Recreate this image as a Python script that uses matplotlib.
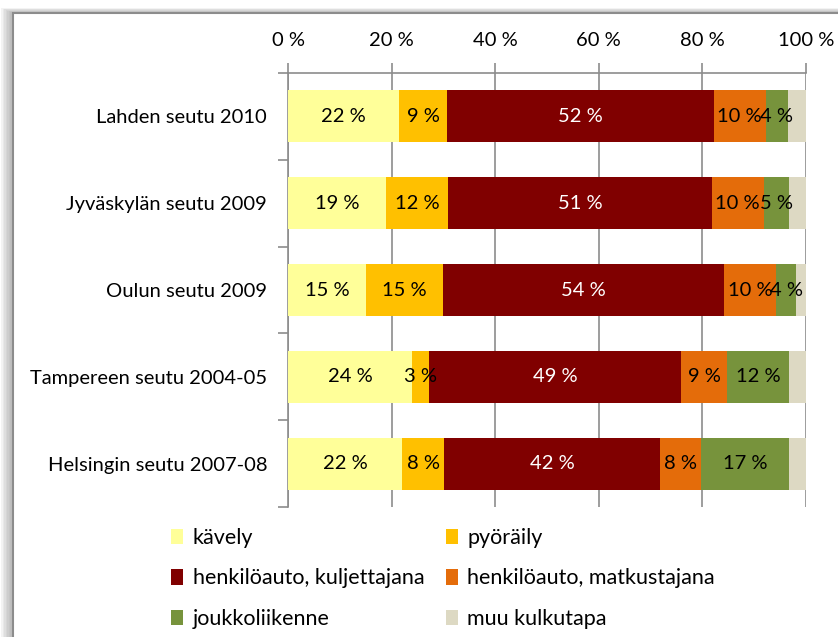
import matplotlib.pyplot as plt
import matplotlib.patches as patches
import numpy as np

plt.rcParams['font.family'] = ['Lato', 'DejaVu Sans']

# regions, top to bottom
regions = ["Lahden seutu 2010", "Jyväskylän seutu 2009", "Oulun seutu 2009",
           "Tampereen seutu 2004-05", "Helsingin seutu 2007-08"]

# shares (%) per travel mode, same order as regions
kavely = [21.5, 18.9, 15.0, 23.9, 22.1]
pyoraily = [9.2, 12.0, 15.0, 3.3, 8.0]
kuljettaja = [51.5, 50.9, 54.2, 48.7, 41.8]
matkustaja = [10.0, 10.0, 10.1, 8.9, 7.9]
joukko = [4.4, 5.0, 3.8, 12.0, 17.0]
muu = [3.4, 3.2, 1.9, 3.2, 3.2]

# printed labels (muu has none)
lab_kavely = ["22 %", "19 %", "15 %", "24 %", "22 %"]
lab_pyoraily = ["9 %", "12 %", "15 %", "3 %", "8 %"]
lab_kuljettaja = ["52 %", "51 %", "54 %", "49 %", "42 %"]
lab_matkustaja = ["10 %", "10 %", "10 %", "9 %", "8 %"]
lab_joukko = ["4 %", "5 %", "4 %", "12 %", "17 %"]

modes = ["kävely", "pyöräily", "henkilöauto, kuljettajana",
         "henkilöauto, matkustajana", "joukkoliikenne", "muu kulkutapa"]
colors = ["#FFFF99", "#FFC000", "#800000", "#E46C0A", "#77933C", "#DDD9C3"]
text_colors = ["black", "black", "white", "black", "black", None]

series = [kavely, pyoraily, kuljettaja, matkustaja, joukko, muu]
labels = [lab_kavely, lab_pyoraily, lab_kuljettaja, lab_matkustaja, lab_joukko, None]

fig = plt.figure(figsize=(8.38, 6.37), dpi=100)

# frame with shadow like the office screenshot
for i in range(8):
    off = 12 - i * 1.5
    fig.patches.append(patches.Rectangle(
        (13 / 838 - off / 838, -0.1), 1.2, 1 - 13 / 637 + 0.1 + off / 637 * 0.4,
        transform=fig.transFigure, facecolor="#808080", alpha=0.09,
        edgecolor="none", zorder=0))
fig.patches.append(patches.Rectangle(
    (13 / 838, -0.1), 1.2, 1 - 13 / 637 + 0.1,
    transform=fig.transFigure, facecolor="white", edgecolor="#8c8c8c",
    linewidth=1.5, zorder=1))

ax = fig.add_axes([288 / 838, 1 - 507 / 637, 518 / 838, 434 / 637])
ax.set_zorder(2)
ax.patch.set_alpha(0)

y = np.arange(len(regions))
left = np.zeros(len(regions))
handles = []
for vals, col, labs, tc, name in zip(series, colors, labels, text_colors, modes):
    vals = np.array(vals)
    bars = ax.barh(y, vals, left=left, height=0.6, color=col, label=name,
                   zorder=3, edgecolor="none")
    handles.append(bars)
    if labs is not None:
        for yi, l, v, t in zip(y, left, vals, labs):
            ax.text(l + v / 2, yi, t, ha="center", va="center", color=tc,
                    fontsize=14.5, zorder=4)
    left += vals

ax.set_xlim(0, 100)
ax.set_ylim(len(regions) - 0.5, -0.5)
ax.xaxis.tick_top()
ax.set_xticks(np.arange(0, 101, 20))
ax.set_xticklabels([f"{v} %" for v in range(0, 101, 20)], fontsize=14.5)
ax.tick_params(axis="x", length=7, width=1.2, color="#8c8c8c", pad=10)
ax.xaxis.grid(True, color="#8c8c8c", linewidth=1.2, zorder=0)
ax.set_axisbelow(True)

ax.set_yticks(np.arange(-0.5, len(regions)), minor=False)
ax.set_yticklabels([])
ax.set_yticks(y, minor=True)
ax.set_yticklabels(regions, minor=True, fontsize=14.5)
ax.tick_params(axis="y", which="major", length=7, width=1.2, color="#8c8c8c")
ax.tick_params(axis="y", which="minor", length=0, pad=15)

for s in ["right", "bottom"]:
    ax.spines[s].set_visible(False)
for s in ["left", "top"]:
    ax.spines[s].set_color("#8c8c8c")
    ax.spines[s].set_linewidth(1.2)

order = [0, 2, 4, 1, 3, 5]
fig.legend([handles[i] for i in order], [modes[i] for i in order],
           ncol=2, loc="upper left", bbox_to_anchor=(171 / 838, 1 - 528 / 637),
           frameon=False, fontsize=15.5, handlelength=0.55, handleheight=0.75,
           handletextpad=0.45, columnspacing=1.0, labelspacing=0.95,
           borderaxespad=0, borderpad=0)

fig.savefig("out.png", dpi=100)
